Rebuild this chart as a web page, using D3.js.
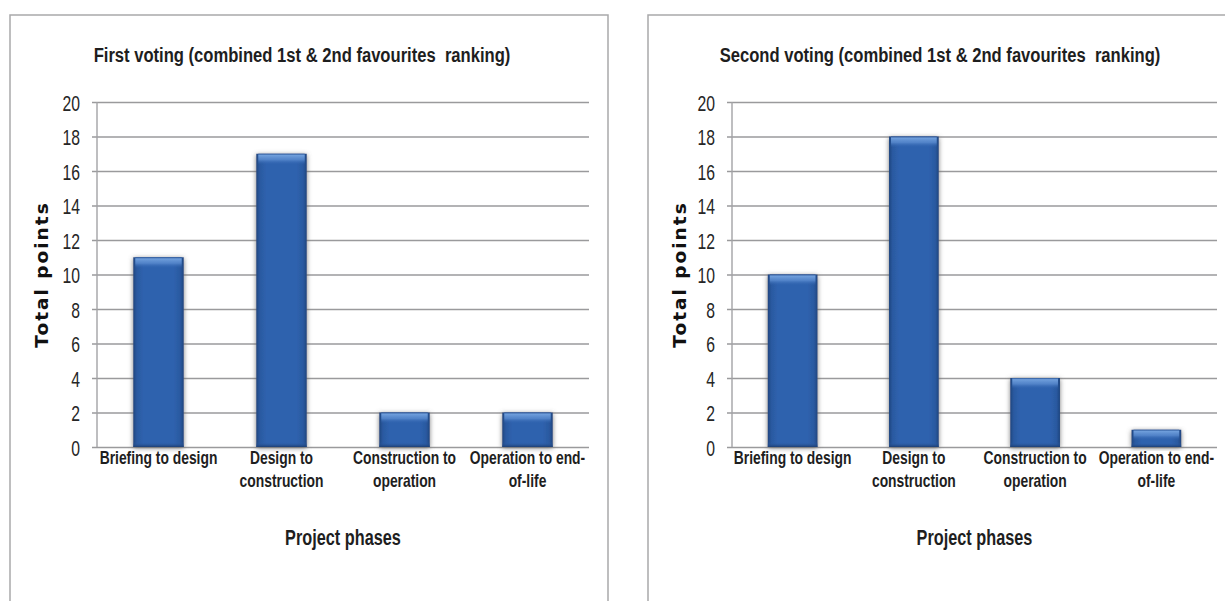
<!DOCTYPE html>
<html>
<head>
<meta charset="utf-8">
<script src="https://cdn.jsdelivr.net/npm/d3@7/dist/d3.min.js"></script>
<style>
  html, body { margin: 0; padding: 0; background: #fff; }
  svg { display: block; }
  .title { font-family: "Liberation Sans", Arial, sans-serif; font-weight: bold; font-size: 20.5px; fill: #1e1e1e; white-space: pre; }
  .tick-label { font-family: "Liberation Sans", Arial, sans-serif; font-size: 22.5px; fill: #262626; }
  .cat-label { font-family: "Liberation Sans", Arial, sans-serif; font-weight: bold; font-size: 18px; fill: #1e1e1e; }
  .x-title { font-family: "Liberation Sans", Arial, sans-serif; font-weight: bold; font-size: 22px; fill: #1e1e1e; }
  .y-title { font-family: "DejaVu Sans", Verdana, sans-serif; font-weight: bold; font-size: 18.5px; fill: #111; letter-spacing: 2px; }
</style>
</head>
<body>
<div id="chart"></div>
<script>
// Project phases (category axis, each label split into its wrapped lines)
const categories = ["Briefing to design", "Design to construction", "Construction to operation", "Operation to end-of-life"];
const categoryLines = [["Briefing to design"], ["Design to", "construction"], ["Construction to", "operation"], ["Operation to end-", "of-life"]];

// Total points per phase for each voting round
const firstVoting = [11, 17, 2, 2];
const secondVoting = [10, 18, 4, 1];

// Value axis ticks
const yTicks = [0, 2, 4, 6, 8, 10, 12, 14, 16, 18, 20];

const titles = [
  "First voting (combined 1st & 2nd favourites  ranking)",
  "Second voting (combined 1st & 2nd favourites  ranking)"
];
const xAxisTitle = "Project phases";
const yAxisTitle = "Total points";

const W = 1225, H = 601;
const svg = d3.select("#chart").append("svg").attr("width", W).attr("height", H);

// Shared bar effects: soft gray halo, darker side edges, light band near the top
const defs = svg.append("defs");
const shadow = defs.append("filter").attr("id", "barShadow")
  .attr("x", "-40%").attr("y", "-20%").attr("width", "180%").attr("height", "140%");
shadow.append("feDropShadow").attr("dx", 0).attr("dy", 1).attr("stdDeviation", 2.6)
  .attr("flood-color", "#666").attr("flood-opacity", 0.85);

const side = defs.append("linearGradient").attr("id", "barSide").attr("x1", 0).attr("x2", 1).attr("y1", 0).attr("y2", 0);
[[0, "#20467f"], [0.07, "#2a59a0"], [0.2, "#2f62ae"], [0.8, "#2f62ae"], [0.93, "#2a59a0"], [1, "#20467f"]]
  .forEach(([o, c]) => side.append("stop").attr("offset", o).attr("stop-color", c));

const topGlow = defs.append("linearGradient").attr("id", "barTop").attr("x1", 0).attr("x2", 0).attr("y1", 0).attr("y2", 1);
[[0, "#2a5597", 1], [0.15, "#6f9edb", 1], [0.55, "#5a8bcf", 0.8], [1, "#2f62ae", 0]]
  .forEach(([o, c, a]) => topGlow.append("stop").attr("offset", o).attr("stop-color", c).attr("stop-opacity", a));

const bottomEdge = defs.append("linearGradient").attr("id", "barBottom").attr("x1", 0).attr("x2", 0).attr("y1", 0).attr("y2", 1);
[[0, "#2f62ae", 0], [1, "#1d3f73", 1]]
  .forEach(([o, c, a]) => bottomEdge.append("stop").attr("offset", o).attr("stop-color", c).attr("stop-opacity", a));

// Places a text at (x, y) squeezed horizontally around its anchor
function narrowAt(sel, x, y, sx) {
  return sel.attr("x", 0).attr("y", 0).attr("transform", `translate(${x},${y}) scale(${sx},1)`);
}

const panels = [
  { frameX: 10, frameW: 598, plotL: 97, plotR: 589, values: firstVoting, title: titles[0], titleX: 302 },
  { frameX: 648, frameW: 598, plotL: 732, plotR: 1217, values: secondVoting, title: titles[1], titleX: 940 }
];
const plotTop = 102, plotBottom = 447, frameY = 15;

panels.forEach(p => {
  const g = svg.append("g");

  // Chart-area frame (its right/bottom edges run past the page)
  g.append("path")
    .attr("d", `M${p.frameX},${H + 5} V${frameY} H${p.frameX + p.frameW} V${H + 5}`)
    .attr("fill", "none").attr("stroke", "#a9a9ab").attr("stroke-width", 1.5);

  const x = d3.scaleBand().domain(categories).range([p.plotL, p.plotR])
    .paddingInner(0.59).paddingOuter(0.295);
  const y = d3.scaleLinear().domain([0, 20]).range([plotBottom, plotTop]);

  // Horizontal gridlines with short ticks left of the axis
  const yAxis = d3.axisLeft(y).tickValues(yTicks).tickSize(-(p.plotR - p.plotL)).tickFormat(d3.format("d"));
  const ya = g.append("g").attr("transform", `translate(${p.plotL},0)`).call(yAxis);
  ya.select(".domain").remove();
  ya.selectAll(".tick line").attr("stroke", "#9a9a9c").attr("stroke-width", 1.6).attr("x1", -5);
  ya.selectAll(".tick text").attr("class", "tick-label").attr("text-anchor", "end")
    .each(function () { narrowAt(d3.select(this), -17, 0, 0.7).attr("dy", "0.36em"); });

  // Vertical value axis line
  g.append("line").attr("x1", p.plotL).attr("x2", p.plotL).attr("y1", plotTop).attr("y2", plotBottom)
    .attr("stroke", "#a3a3a5").attr("stroke-width", 1.4);

  // Bars
  const bars = g.selectAll(".bar").data(categories.map((c, i) => ({ c, v: p.values[i] }))).join("g").attr("class", "bar");
  bars.append("rect")
    .attr("x", d => x(d.c)).attr("width", x.bandwidth())
    .attr("y", d => y(d.v)).attr("height", d => y(0) - y(d.v))
    .attr("fill", "url(#barSide)").attr("filter", "url(#barShadow)");
  bars.append("rect")
    .attr("x", d => x(d.c) + 2).attr("width", x.bandwidth() - 4)
    .attr("y", d => y(d.v)).attr("height", d => Math.min(11, (y(0) - y(d.v)) * 0.6))
    .attr("fill", "url(#barTop)");
  bars.append("rect")
    .attr("x", d => x(d.c)).attr("width", x.bandwidth())
    .attr("y", d => y(0) - Math.min(5, (y(0) - y(d.v)) * 0.25)).attr("height", d => Math.min(5, (y(0) - y(d.v)) * 0.25))
    .attr("fill", "url(#barBottom)");

  // Category labels
  categories.forEach((c, i) => {
    categoryLines[i].forEach((line, j) => {
      narrowAt(g.append("text").attr("class", "cat-label").attr("text-anchor", "middle").text(line),
        x(c) + x.bandwidth() / 2, 464 + j * 23, 0.77);
    });
  });

  // Titles
  narrowAt(g.append("text").attr("class", "title").attr("text-anchor", "middle").text(p.title),
    p.titleX, 62, 0.81);
  narrowAt(g.append("text").attr("class", "x-title").attr("text-anchor", "middle").text(xAxisTitle),
    (p.plotL + p.plotR) / 2, 545, 0.74);
  g.append("text").attr("class", "y-title").attr("text-anchor", "middle")
    .attr("transform", `translate(${p.frameX + 38},${(plotTop + plotBottom) / 2}) rotate(-90)`)
    .text(yAxisTitle);
});
</script>
</body>
</html>
